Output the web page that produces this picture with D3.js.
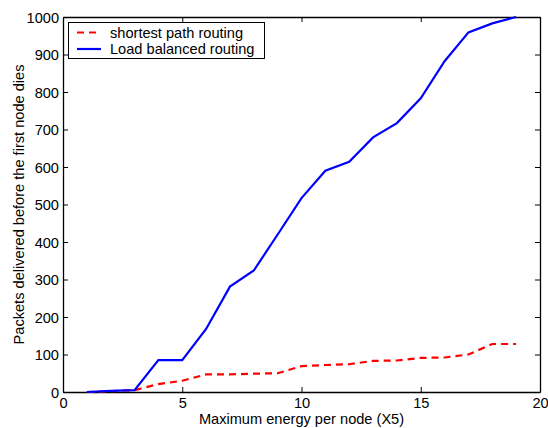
<!DOCTYPE html>
<html><head><meta charset="utf-8">
<script src="https://cdn.jsdelivr.net/npm/d3@7"></script>
<style>body{margin:0;background:#fff;} svg{display:block;} text{font-family:"Liberation Sans",Arial,sans-serif;}</style>
</head><body>
<svg id="c" width="548" height="428"></svg>
<script>
const energy = [1,2,3,4,5,6,7,8,9,10,11,12,13,14,15,16,17,18,19];
const shortestPath = [0,2,5,21,30,47,47,49,50,69,72,74,83,84,91,92,100,128,128];
const loadBalanced = [0,3,5,85,85,168,281,324,420,517,590,614,679,717,783,882,959,983,1000];
const xTicks = [0,5,10,15,20];
const yTicks = [0,100,200,300,400,500,600,700,800,900,1000];
const seriesNames = ["shortest path routing","Load balanced routing"];

const svg = d3.select("#c");
const m = {l:63, r:540, t:17, b:392};
const x = d3.scaleLinear().domain([0,20]).range([m.l, m.r]);
const y = d3.scaleLinear().domain([0,1000]).range([m.b, m.t]);

const fs = 14.6;
const ff = '"Liberation Sans",Arial,sans-serif';
const fmt = d3.format("d");
// axes
const ax = svg.append("g").attr("transform",`translate(0,${m.b})`)
  .call(d3.axisBottom(x).tickValues(xTicks).tickFormat(fmt).tickSizeInner(-5).tickSizeOuter(0).tickPadding(6));
const axT = svg.append("g").attr("transform",`translate(0,${m.t})`)
  .call(d3.axisTop(x).tickValues(xTicks).tickSizeInner(-5).tickSizeOuter(0).tickFormat(""));
const ay = svg.append("g").attr("transform",`translate(${m.l},0)`)
  .call(d3.axisLeft(y).tickValues(yTicks).tickFormat(fmt).tickSizeInner(-5).tickSizeOuter(0).tickPadding(4));
const ayR = svg.append("g").attr("transform",`translate(${m.r},0)`)
  .call(d3.axisRight(y).tickValues(yTicks).tickSizeInner(-5).tickSizeOuter(0).tickFormat(""));
[ax,axT,ay,ayR].forEach(g=>{
  g.attr("font-size",fs).attr("font-family",ff);
  g.selectAll("path.domain").attr("stroke","#000").attr("stroke-width",1.3);
  g.selectAll(".tick line").attr("stroke","#000").attr("stroke-width",1);
  g.selectAll(".tick text").attr("fill","#000");
});
ax.selectAll(".tick text").attr("dy","0.71em");
ay.selectAll(".tick text").attr("dy","0.36em");

// lines
const line = d3.line().x((d,i)=>x(energy[i])).y(d=>y(d));
svg.append("path").datum(shortestPath).attr("d",line)
  .attr("fill","none").attr("stroke","#ff0000").attr("stroke-width",2.2).attr("stroke-dasharray","7,5");
svg.append("path").datum(loadBalanced).attr("d",line)
  .attr("fill","none").attr("stroke","#0000ff").attr("stroke-width",2.2);

// axis labels
svg.append("text").attr("x",(m.l+m.r)/2).attr("y",424).attr("text-anchor","middle")
  .attr("font-size",fs).attr("font-family",ff).text("Maximum energy per node (X5)");
svg.append("text").attr("transform",`translate(24,${(m.t+m.b)/2}) rotate(-90)`).attr("text-anchor","middle")
  .attr("font-size",fs).attr("font-family",ff).text("Packets delivered before the first node dies");

// legend
const lg = svg.append("g");
lg.append("rect").attr("x",68.5).attr("y",22.5).attr("width",196).attr("height",36)
  .attr("fill","#fff").attr("stroke","#000").attr("stroke-width",1);
const colors = ["#ff0000","#0000ff"];
const dashes = ["7,5",null];
seriesNames.forEach((n,i)=>{
  const yy = 32.5 + i*16.5;
  lg.append("line").attr("x1",77).attr("x2",101).attr("y1",yy).attr("y2",yy)
    .attr("stroke",colors[i]).attr("stroke-width",2.2).attr("stroke-dasharray",dashes[i]);
  lg.append("text").attr("x",110).attr("y",yy).attr("dy","0.36em").attr("font-size",fs).attr("font-family",ff).text(n);
});
</script>
</body></html>
